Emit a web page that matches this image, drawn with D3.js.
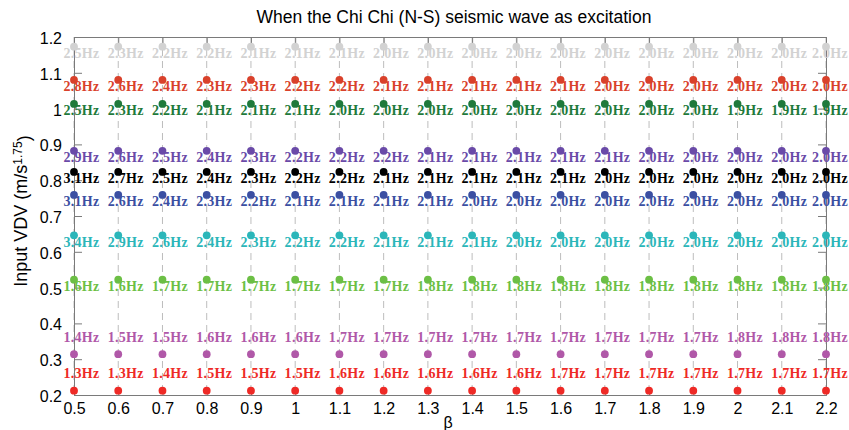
<!DOCTYPE html>
<html>
<head>
<meta charset="utf-8">
<script src="https://cdn.jsdelivr.net/npm/d3@7"></script>
<style>
  body { margin: 0; background: #fff; }
  svg { display: block; }
</style>
</head>
<body>
<script>
// beta values on the x axis
var betas = [0.5, 0.6, 0.7, 0.8, 0.9, 1, 1.1, 1.2, 1.3, 1.4, 1.5, 1.6, 1.7, 1.8, 1.9, 2, 2.1, 2.2];
var yTicks = [0.2, 0.3, 0.4, 0.5, 0.6, 0.7, 0.8, 0.9, 1, 1.1, 1.2];

// input VDV level of each row (top to bottom)
var vdvLevels = [1.173, 1.08, 1.013, 0.882, 0.823, 0.759, 0.646, 0.522, 0.314, 0.212];

// frequency label (Hz) for each beta, one array per VDV level
var freqA = [2.5, 2.3, 2.2, 2.2, 2.1, 2.1, 2.1, 2.0, 2.0, 2.0, 2.0, 2.0, 2.0, 2.0, 2.0, 2.0, 2.0, 2.0];
var freqB = [2.8, 2.6, 2.4, 2.3, 2.3, 2.2, 2.2, 2.1, 2.1, 2.1, 2.1, 2.1, 2.0, 2.0, 2.0, 2.0, 2.0, 2.0];
var freqC = [2.5, 2.3, 2.2, 2.1, 2.1, 2.1, 2.0, 2.0, 2.0, 2.0, 2.0, 2.0, 2.0, 2.0, 2.0, 1.9, 1.9, 1.9];
var freqD = [2.9, 2.6, 2.5, 2.4, 2.3, 2.2, 2.2, 2.2, 2.1, 2.1, 2.1, 2.1, 2.1, 2.0, 2.0, 2.0, 2.0, 2.0];
var freqE = [3.1, 2.7, 2.5, 2.4, 2.3, 2.2, 2.2, 2.1, 2.1, 2.1, 2.1, 2.1, 2.0, 2.0, 2.0, 2.0, 2.0, 2.0];
var freqF = [3.1, 2.6, 2.4, 2.3, 2.2, 2.1, 2.1, 2.1, 2.1, 2.0, 2.0, 2.0, 2.0, 2.0, 2.0, 2.0, 2.0, 2.0];
var freqG = [3.4, 2.9, 2.6, 2.4, 2.3, 2.2, 2.2, 2.1, 2.1, 2.1, 2.0, 2.0, 2.0, 2.0, 2.0, 2.0, 2.0, 2.0];
var freqH = [1.6, 1.6, 1.7, 1.7, 1.7, 1.7, 1.7, 1.7, 1.8, 1.8, 1.8, 1.8, 1.8, 1.8, 1.8, 1.8, 1.8, 1.8];
var freqI = [1.4, 1.5, 1.5, 1.6, 1.6, 1.6, 1.7, 1.7, 1.7, 1.7, 1.7, 1.7, 1.7, 1.7, 1.7, 1.8, 1.8, 1.8];
var freqJ = [1.3, 1.3, 1.4, 1.5, 1.5, 1.5, 1.6, 1.6, 1.6, 1.6, 1.6, 1.7, 1.7, 1.7, 1.7, 1.7, 1.7, 1.7];

var freqRows = [freqA, freqB, freqC, freqD, freqE, freqF, freqG, freqH, freqI, freqJ];
var rowColors = ["#d2d2d2", "#d9412b", "#1f7a3b", "#6a4aa8", "#000000",
                 "#3b4fa2", "#2bb6b9", "#6cbf45", "#b058a8", "#ee2a26"];
// last two rows carry their labels above the dot
var labelAbove = [false, false, false, false, false, false, false, false, true, true];

var width = 849, height = 430;
var margin = {top: 37, right: 23, bottom: 35, left: 74};

var svg = d3.select("body").append("svg")
    .attr("width", width)
    .attr("height", height);

var x = d3.scaleLinear().domain([0.5, 2.2]).range([margin.left, width - margin.right]);
var y = d3.scaleLinear().domain([0.2, 1.2]).range([height - margin.bottom, margin.top]);

// dashed grid at each beta
svg.append("g").selectAll("line")
    .data(betas)
    .enter().append("line")
    .attr("x1", function(d) { return x(d); })
    .attr("x2", function(d) { return x(d); })
    .attr("y1", y(1.2))
    .attr("y2", y(0.2))
    .style("stroke", "#bdbdbd")
    .style("stroke-width", 1)
    .style("stroke-dasharray", "7,5");

// axes, MATLAB style: box with inward ticks
var tickFmt = function(d) { return d3.format("")(+d.toFixed(1)); };
var axisColor = "#7a7a7a";

var gx = svg.append("g")
    .attr("transform", "translate(0," + y(0.2) + ")")
    .call(d3.axisBottom(x).tickValues(betas).tickSize(-8).tickPadding(14).tickFormat(tickFmt));
var gxTop = svg.append("g")
    .attr("transform", "translate(0," + y(1.2) + ")")
    .call(d3.axisTop(x).tickValues(betas).tickSize(-8).tickFormat(""));
var gy = svg.append("g")
    .attr("transform", "translate(" + x(0.5) + ",0)")
    .call(d3.axisLeft(y).tickValues(yTicks).tickSize(-8).tickPadding(12).tickFormat(tickFmt));
var gyRight = svg.append("g")
    .attr("transform", "translate(" + x(2.2) + ",0)")
    .call(d3.axisRight(y).tickValues(yTicks).tickSize(-8).tickFormat(""));

[gx, gxTop, gy, gyRight].forEach(function(g) {
  g.selectAll("path").style("stroke", axisColor);
  g.selectAll("line").style("stroke", axisColor);
  g.selectAll("text")
    .style("font-family", "'Liberation Sans', Arial, sans-serif")
    .style("font-size", "16px")
    .style("fill", "#000");
});
gx.selectAll("text").attr("dy", "0.3em");
gy.selectAll("text").attr("dy", "0.4em");

// points and their frequency labels
var rows = svg.append("g").selectAll("g")
    .data(freqRows)
    .enter().append("g");

rows.each(function(freqs, r) {
  var g = d3.select(this);
  var color = rowColors[r];
  var yv = vdvLevels[r];

  g.selectAll("circle")
    .data(freqs)
    .enter().append("circle")
    .attr("cx", function(d, i) { return x(betas[i]); })
    .attr("cy", y(yv))
    .attr("r", 3.9)
    .style("fill", color);

  // labels sit a little right of the dot, kept inside the page on the last column
  g.selectAll("text")
    .data(freqs)
    .enter().append("text")
    .attr("x", function(d, i) { return Math.min(x(betas[i]) + 7.5, width - 19); })
    .attr("y", y(yv) + (labelAbove[r] ? -12.5 : 11.5))
    .attr("text-anchor", "middle")
    .style("font-family", "'Liberation Serif', 'Times New Roman', serif")
    .style("font-weight", "bold")
    .style("font-size", "14px")
    .style("letter-spacing", "0.3px")
    .style("fill", color)
    .text(function(d) { return d.toFixed(1) + "Hz"; });
});

// title and axis labels
svg.append("text")
    .attr("x", (x(0.5) + x(2.2)) / 2 + 4)
    .attr("y", 23)
    .attr("text-anchor", "middle")
    .style("font-family", "'Liberation Sans', Arial, sans-serif")
    .style("font-size", "17.5px")
    .text("When the Chi Chi (N-S) seismic wave as excitation");

svg.append("text")
    .attr("x", (x(0.5) + x(2.2)) / 2 - 2)
    .attr("y", 428)
    .attr("text-anchor", "middle")
    .style("font-family", "'Liberation Sans', Arial, sans-serif")
    .style("font-size", "16px")
    .text("β");

var yl = svg.append("text")
    .attr("transform", "translate(27," + ((y(0.2) + y(1.2)) / 2 - 5) + ") rotate(-90)")
    .attr("text-anchor", "middle")
    .style("font-family", "'Liberation Sans', Arial, sans-serif")
    .style("font-size", "18px");
yl.append("tspan").text("Input VDV (m/s");
yl.append("tspan").attr("dy", "-0.45em").style("font-size", "12px").text("1.75");
yl.append("tspan").attr("dy", "0.45em").text(")");
</script>
</body>
</html>
